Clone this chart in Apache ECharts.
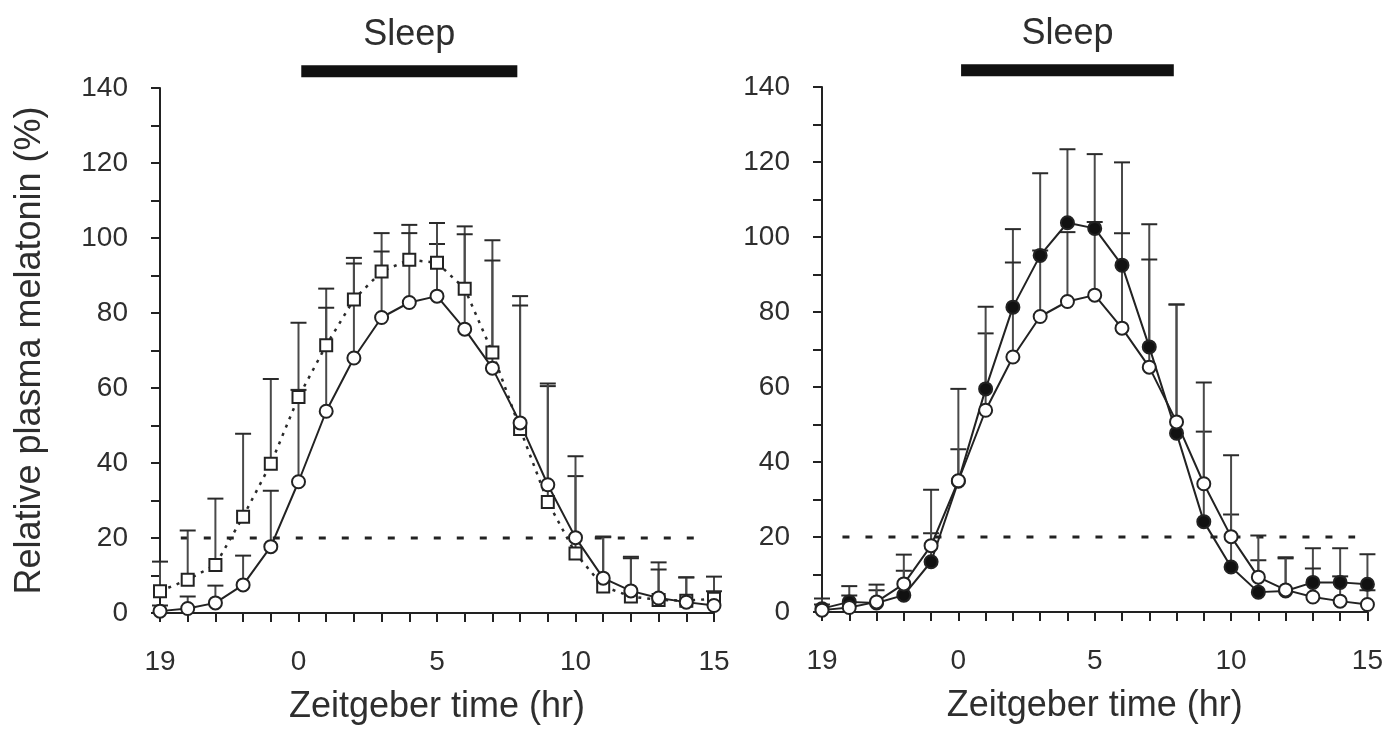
<!DOCTYPE html>
<html>
<head>
<meta charset="utf-8">
<title>Relative plasma melatonin</title>
<script src="https://cdn.jsdelivr.net/npm/echarts@6/dist/echarts.min.js"></script>
<style>
html, body { margin: 0; padding: 0; background: #fff; }
#melatoninChart { width: 1386px; height: 730px; }
</style>
</head>
<body>
<div id="melatoninChart"></div>
<script>
// zeitgeber hours, -5 is printed as "19" (clock time of the evening before)
const hours = [-5, -4, -3, -2, -1, 0, 1, 2, 3, 4, 5, 6, 7, 8, 9, 10, 11, 12, 13, 14, 15]
const xTickValues = [-5, 0, 5, 10, 15]
const xTickLabels = ['19', '0', '5', '10', '15']

// open circles (same control curve in both panels)
const controlMean = [0.5, 1.2, 2.7, 7.5, 17.7, 35.0, 53.8, 68.0, 78.8, 82.8, 84.5, 75.7, 65.3, 50.7, 34.2, 20.1, 9.3, 5.9, 4.0, 2.9, 2.0]
const controlTop = [2.0, 4.4, 7.3, 15.3, 32.6, 59.5, 81.4, 93.2, 96.4, 101.3, 104.0, 101.0, 94.0, 82.0, 61.2, 41.8, 20.4, 14.6, 11.6, 9.5, 5.8]

// open squares, left panel
const squareMean = [5.8, 8.9, 12.8, 25.7, 39.8, 57.6, 71.4, 83.6, 91.1, 94.2, 93.4, 86.5, 69.5, 49.1, 29.6, 15.9, 7.1, 4.4, 3.5, 3.3, 3.8]
const squareTop = [13.7, 22.0, 30.5, 47.8, 62.4, 77.4, 86.5, 94.7, 101.3, 103.5, 98.4, 103.1, 99.4, 84.5, 60.5, 36.5, 20.2, 15.0, 13.5, 9.5, 9.7]

// filled circles, right panel
const filledMean = [0.9, 2.7, 2.4, 4.5, 13.4, 34.9, 59.5, 81.3, 95.1, 103.8, 102.3, 92.5, 70.7, 47.7, 24.1, 12.0, 5.3, 5.6, 7.9, 7.9, 7.4]
const filledTop = [3.6, 6.9, 5.8, 11.0, 21.0, 43.4, 74.3, 102.1, 117.0, 123.4, 122.1, 119.9, 103.4, 82.0, 48.1, 26.0, 13.8, 14.3, 17.0, 17.0, 15.4]

const threshold = [[-4.25, 20], [14.55, 20]]
const sleepSpan = [0.1, 7.9]

const FONT = "'Liberation Sans', Arial, sans-serif"
const INK = '#222'
const TEXT = '#2e2e2e'

const pairs = arr => hours.map((h, i) => [h, arr[i]])
const triples = (lo, hi) => hours.map((h, i) => [h, lo[i], hi[i]])

function renderErr(params, api) {
	const p0 = api.coord([api.value(0), api.value(1)])
	const p1 = api.coord([api.value(0), api.value(2)])
	return {
		type: 'group',
		children: [
			{ type: 'line', shape: { x1: p0[0], y1: p0[1], x2: p1[0], y2: p1[1] }, style: { stroke: '#4a4a4a', lineWidth: 2 } },
			{ type: 'line', shape: { x1: p1[0] - 8, y1: p1[1], x2: p1[0] + 8, y2: p1[1] }, style: { stroke: '#2a2a2a', lineWidth: 2 } }
		]
	}
}

function renderSleep(params, api) {
	// bar sits just above the 140 line
	const a = api.coord([api.value(0), 144.5])
	const b = api.coord([api.value(1), 144.5])
	return {
		type: 'group',
		children: [
			{ type: 'rect', shape: { x: a[0], y: a[1] - 6, width: b[0] - a[0], height: 12 }, style: { fill: '#111' } },
			{ type: 'text', x: (a[0] + b[0]) / 2, y: a[1] - 36, style: { text: 'Sleep', fill: TEXT, font: '36px ' + FONT, align: 'center', verticalAlign: 'middle' } }
		]
	}
}

function xAxisFor(gridIndex) {
	return {
		gridIndex: gridIndex,
		type: 'value',
		min: -5,
		max: 15,
		interval: 5,
		name: 'Zeitgeber time (hr)',
		nameLocation: 'middle',
		nameGap: 76,
		nameTextStyle: { fontFamily: FONT, fontSize: 36, color: TEXT },
		axisLine: { onZero: false, lineStyle: { color: INK, width: 2 } },
		axisTick: { length: 9, lineStyle: { color: INK, width: 2 } },
		minorTick: { show: true, splitNumber: 5, length: 9, lineStyle: { color: INK, width: 2 } },
		axisLabel: {
			margin: 35,
			fontFamily: FONT,
			fontSize: 28,
			color: TEXT,
			formatter: v => xTickLabels[xTickValues.indexOf(v)]
		},
		splitLine: { show: false }
	}
}

function yAxisFor(gridIndex, withName) {
	return {
		gridIndex: gridIndex,
		type: 'value',
		min: 0,
		max: 140,
		interval: 20,
		name: withName ? 'Relative plasma melatonin (%)' : '',
		nameLocation: 'middle',
		nameGap: 112,
		nameTextStyle: { fontFamily: FONT, fontSize: 36, color: TEXT },
		axisLine: { show: true, onZero: false, lineStyle: { color: INK, width: 2 } },
		axisTick: { show: true, length: 9, lineStyle: { color: INK, width: 2 } },
		minorTick: { show: true, splitNumber: 2, length: 9, lineStyle: { color: INK, width: 2 } },
		axisLabel: { margin: 32, fontFamily: FONT, fontSize: 28, color: TEXT },
		splitLine: { show: false }
	}
}

function errSeries(idx, lo, hi) {
	return {
		type: 'custom',
		xAxisIndex: idx,
		yAxisIndex: idx,
		clip: false,
		z: 2,
		renderItem: renderErr,
		encode: { x: 0, y: [1, 2] },
		data: triples(lo, hi)
	}
}

function curve(idx, arr, symbol, fill, dashed) {
	return {
		type: 'line',
		xAxisIndex: idx,
		yAxisIndex: idx,
		clip: false,
		z: 3,
		symbol: symbol,
		symbolSize: symbol === 'rect' ? 12 : 13,
		showAllSymbol: true,
		itemStyle: { color: fill, borderColor: INK, borderWidth: 2 },
		lineStyle: dashed ? { color: '#2a2a2a', width: 2.5, type: [3, 6] } : { color: INK, width: 2 },
		emphasis: { disabled: true },
		data: pairs(arr)
	}
}

function thresholdLine(idx) {
	return {
		type: 'line',
		xAxisIndex: idx,
		yAxisIndex: idx,
		symbol: 'none',
		z: 1,
		lineStyle: { color: INK, width: 3, type: [7, 16] },
		data: threshold
	}
}

function sleepBar(idx) {
	return {
		type: 'custom',
		xAxisIndex: idx,
		yAxisIndex: idx,
		clip: false,
		renderItem: renderSleep,
		data: [sleepSpan]
	}
}

const chartDom = echarts.init(document.getElementById('melatoninChart'))
chartDom.setOption({
	backgroundColor: '#fff',
	animation: false,
	grid: [
		{ left: 160, top: 88, width: 554, height: 527 },
		{ left: 822, top: 87, width: 551, height: 525 }
	],
	xAxis: [xAxisFor(0), xAxisFor(1)],
	yAxis: [yAxisFor(0, true), yAxisFor(1, false)],
	series: [
		thresholdLine(0),
		errSeries(0, squareMean, squareTop),
		errSeries(0, controlMean, controlTop),
		curve(0, squareMean, 'rect', '#fff', true),
		curve(0, controlMean, 'circle', '#fff', false),
		sleepBar(0),

		thresholdLine(1),
		errSeries(1, filledMean, filledTop),
		errSeries(1, controlMean, controlTop),
		curve(1, filledMean, 'circle', '#111', false),
		curve(1, controlMean, 'circle', '#fff', false),
		sleepBar(1)
	]
})
</script>
</body>
</html>
